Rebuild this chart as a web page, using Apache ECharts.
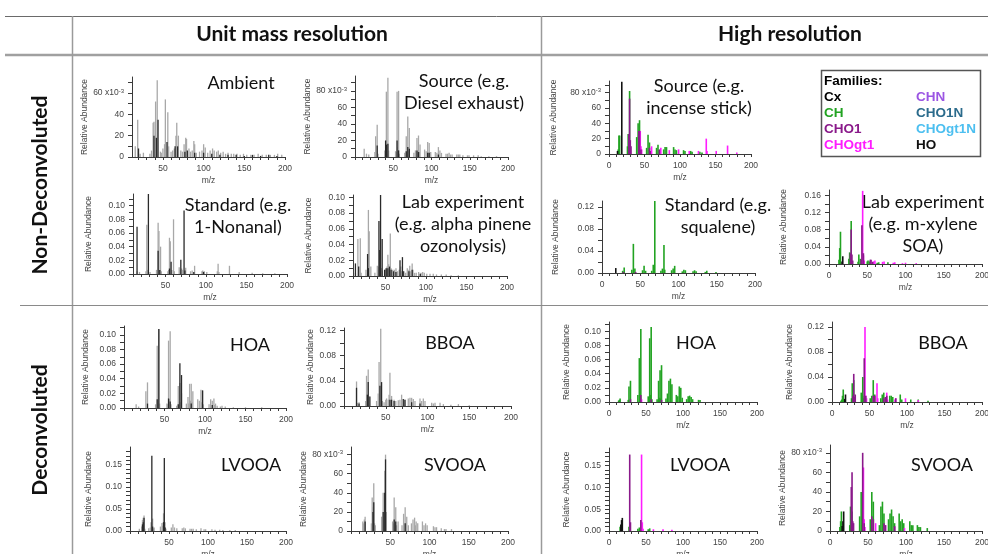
<!DOCTYPE html>
<html><head><meta charset="utf-8">
<script src="https://cdn.jsdelivr.net/npm/echarts@6/dist/echarts.min.js"></script>
<style>html,body{margin:0;padding:0;background:#fff}#c{width:988px;height:554px}</style>
</head><body><div id="c"></div>
<script>
// ---------- tick / label values ----------
const xTicks0  = [0,10,20,30,40,50,60,70,80,90,100,110,120,130,140,150,160,170,180,190,200];
const xTicks10 = [10,20,30,40,50,60,70,80,90,100,110,120,130,140,150,160,170,180,190,200];
const xTicks20 = [20,30,40,50,60,70,80,90,100,110,120,130,140,150,160,170,180,190,200];
const xLabelsUMR = [50,100,150,200];
const xLabelsHR  = [0,50,100,150,200];
const yTicks07 = [0,0.01,0.02,0.03,0.04,0.05,0.06,0.07];
const yLabels06 = [0,0.02,0.04,0.06];
const yTicks09 = [0,0.01,0.02,0.03,0.04,0.05,0.06,0.07,0.08,0.09];
const yLabels08 = [0,0.02,0.04,0.06,0.08];
const yTicks11 = [0,0.01,0.02,0.03,0.04,0.05,0.06,0.07,0.08,0.09,0.10,0.11];
const yTicks10 = [0,0.01,0.02,0.03,0.04,0.05,0.06,0.07,0.08,0.09,0.10];
const yLabels10 = [0,0.02,0.04,0.06,0.08,0.10];
const yTicks12 = [0,0.02,0.04,0.06,0.08,0.10,0.12];
const yLabels12 = [0,0.04,0.08,0.12];
const yTicks16 = [0,0.02,0.04,0.06,0.08,0.10,0.12,0.14,0.16];
const yLabels16 = [0,0.04,0.08,0.12,0.16];
const yTicks15 = [0,0.01,0.02,0.03,0.04,0.05,0.06,0.07,0.08,0.09,0.10,0.11,0.12,0.13,0.14,0.15,0.16,0.17,0.18];
const yLabels15 = [0,0.05,0.10,0.15];

// ---------- spectra: [m/z, relative abundance] ----------
// Unit mass resolution, non-deconvoluted
const ambientLight = [[16,0.010],[19,0.035],[22,0.003],[26,0.004],[34,0.003],[36,0.006],[38,0.032],[39,0.033],[41,0.052],[43,0.072],[47,0.005],[48,0.004],[50,0.008],[52,0.012],[53,0.054],[56,0.042],[57,0.010],[60,0.005],[62,0.006],[64,0.008],[66,0.020],[67,0.032],[69,0.020],[72,0.006],[74,0.005],[76,0.012],[78,0.018],[79,0.017],[82,0.008],[84,0.005],[86,0.006],[88,0.015],[89,0.012],[91,0.004],[95,0.005],[98,0.006],[100,0.012],[102,0.009],[105,0.004],[108,0.006],[111,0.008],[113,0.006],[116,0.005],[118,0.006],[121,0.004],[124,0.005],[127,0.003],[130,0.004],[134,0.003],[137,0.003],[141,0.003],[145,0.002],[149,0.003],[153,0.002],[158,0.002],[162,0.002],[167,0.003],[172,0.002],[177,0.002],[182,0.002],[187,0.002],[191,0.003],[196,0.002]];
const ambientDark = [[20,0.008],[39,0.020],[42,0.018],[44,0.035],[55,0.014],[65,0.010],[68,0.010],[77,0.005],[80,0.006],[89,0.004],[100,0.004],[110,0.003],[120,0.002],[130,0.002],[140,0.002],[150,0.001],[160,0.002],[170,0.001],[180,0.002],[190,0.001]];
const dieselLight = [[12,0.010],[15,0.004],[18,0.003],[26,0.006],[27,0.025],[29,0.039],[30,0.004],[39,0.008],[41,0.079],[42,0.012],[43,0.096],[44,0.008],[53,0.007],[54,0.006],[55,0.079],[56,0.012],[57,0.080],[58,0.004],[65,0.005],[67,0.025],[68,0.007],[69,0.049],[70,0.008],[71,0.035],[77,0.005],[79,0.008],[81,0.023],[82,0.007],[83,0.026],[84,0.006],[85,0.015],[91,0.009],[93,0.007],[95,0.018],[96,0.005],[97,0.017],[99,0.006],[105,0.006],[107,0.005],[109,0.012],[111,0.008],[113,0.005],[119,0.004],[121,0.004],[123,0.005],[125,0.003],[127,0.003],[133,0.003],[135,0.003],[137,0.003],[141,0.002],[147,0.002],[149,0.002],[155,0.002],[161,0.002],[165,0.001],[175,0.001],[185,0.001]];
const dieselDark = [[29,0.014],[40,0.020],[41,0.015],[43,0.016],[55,0.020],[57,0.008],[67,0.007],[69,0.012],[71,0.010],[81,0.008],[83,0.006],[95,0.005],[97,0.005],[109,0.003]];
const nonanalLight = [[15,0.004],[18,0.003],[26,0.004],[27,0.072],[28,0.006],[31,0.003],[39,0.006],[41,0.075],[42,0.063],[44,0.040],[45,0.004],[53,0.004],[54,0.006],[55,0.053],[56,0.048],[58,0.006],[60,0.080],[61,0.004],[67,0.010],[68,0.006],[70,0.008],[71,0.006],[75,0.009],[81,0.004],[83,0.005],[86,0.012],[95,0.004],[96,0.005],[98,0.004],[101,0.003],[114,0.004],[115,0.015],[116,0.003],[129,0.012],[141,0.003],[157,0.002],[170,0.001],[185,0.001]];
const nonanalDark = [[15,0.069],[29,0.117],[41,0.034],[43,0.006],[55,0.008],[57,0.018],[69,0.021],[73,0.093],[74,0.005],[85,0.003],[97,0.003]];
const pineneLight = [[13,0.004],[16,0.047],[19,0.048],[20,0.004],[26,0.008],[29,0.084],[30,0.057],[32,0.012],[37,0.004],[40,0.013],[41,0.008],[42,0.012],[43,0.010],[45,0.010],[46,0.006],[50,0.008],[51,0.010],[52,0.012],[53,0.027],[54,0.015],[56,0.054],[57,0.010],[59,0.008],[61,0.008],[63,0.010],[65,0.006],[67,0.008],[69,0.012],[70,0.006],[73,0.006],[75,0.004],[77,0.010],[79,0.008],[80,0.013],[81,0.006],[83,0.016],[84,0.008],[86,0.004],[88,0.004],[91,0.005],[94,0.004],[96,0.005],[98,0.004],[101,0.003],[105,0.003],[109,0.003],[113,0.002],[119,0.002],[125,0.002],[131,0.001],[140,0.001]];
const pineneDark = [[13,0.016],[17,0.012],[28,0.028],[29,0.010],[42,0.070],[43,0.033],[44,0.104],[46,0.047],[49,0.008],[51,0.010],[53,0.010],[55,0.012],[57,0.008],[60,0.006],[63,0.005],[68,0.020],[71,0.024],[72,0.006],[79,0.006],[83,0.008],[93,0.003]];

// High resolution, non-deconvoluted (by ion family)
const incenseCH = [[13,0.006],[14,0.024],[15,0.024],[26,0.010],[27,0.026],[29,0.082],[39,0.022],[41,0.040],[43,0.044],[53,0.008],[55,0.025],[57,0.015],[67,0.008],[69,0.012],[71,0.005],[77,0.006],[79,0.009],[81,0.009],[91,0.009],[93,0.006],[95,0.005],[105,0.005],[107,0.004],[115,0.004],[117,0.003],[128,0.003],[131,0.002]];
const incenseCHO1 = [[28,0.026],[29,0.072],[30,0.018],[31,0.010],[42,0.030],[43,0.030],[45,0.006],[57,0.008],[58,0.004],[71,0.006]];
const incenseCHOgt1 = [[44,0.030],[45,0.010],[46,0.006],[60,0.010],[73,0.008],[85,0.005],[98,0.006],[113,0.004],[126,0.004],[137,0.020],[138,0.004],[151,0.004],[167,0.011],[180,0.002]];
const incenseHO = [[12,0.004],[18,0.094]];
const squaleneCH = [[27,0.004],[29,0.010],[39,0.006],[41,0.053],[43,0.008],[53,0.005],[55,0.013],[57,0.004],[65,0.004],[67,0.015],[68,0.006],[69,0.132],[77,0.004],[79,0.008],[81,0.051],[82,0.006],[91,0.005],[93,0.008],[95,0.013],[105,0.003],[107,0.006],[109,0.005],[119,0.003],[121,0.005],[123,0.003],[135,0.002],[137,0.004],[149,0.002]];
const squaleneCHO1 = [[28,0.002],[44,0.002]];
const squaleneHO = [[18,0.009]];
const xyleneCH = [[13,0.010],[14,0.037],[15,0.075],[26,0.012],[27,0.027],[28,0.005],[29,0.100],[38,0.005],[39,0.022],[41,0.012],[50,0.006],[51,0.008],[53,0.006],[63,0.003],[65,0.004],[77,0.004]];
const xyleneCHO1 = [[28,0.025],[29,0.080],[30,0.022],[31,0.008],[42,0.010],[43,0.090],[45,0.025],[54,0.010],[55,0.010],[57,0.005]];
const xyleneCHOgt1 = [[44,0.170],[45,0.020],[46,0.008],[58,0.006],[60,0.008],[70,0.005],[72,0.006],[84,0.003],[86,0.004],[96,0.002],[100,0.003],[114,0.002]];
const xyleneHO = [[17,0.006],[18,0.018]];

// Unit mass resolution, deconvoluted factors
const hoaLight = [[15,0.005],[18,0.002],[27,0.023],[29,0.035],[39,0.005],[41,0.085],[42,0.010],[43,0.108],[44,0.006],[53,0.006],[54,0.005],[55,0.092],[56,0.012],[57,0.105],[58,0.005],[65,0.003],[67,0.030],[68,0.008],[69,0.034],[70,0.008],[71,0.020],[77,0.006],[79,0.015],[80,0.006],[81,0.033],[82,0.010],[83,0.033],[84,0.008],[85,0.023],[91,0.012],[93,0.010],[95,0.025],[96,0.008],[97,0.024],[98,0.005],[105,0.005],[107,0.012],[109,0.010],[111,0.013],[112,0.004],[113,0.006],[115,0.003],[119,0.002],[121,0.003],[125,0.002],[135,0.001],[150,0.001],[170,0.001]];
const hoaDark = [[29,0.006],[41,0.012],[43,0.108],[55,0.013],[57,0.009],[67,0.005],[69,0.061],[71,0.045],[83,0.006],[97,0.024],[109,0.004]];
const bboaLight = [[15,0.039],[16,0.005],[18,0.006],[26,0.008],[27,0.048],[29,0.058],[30,0.015],[39,0.008],[41,0.020],[42,0.070],[44,0.123],[46,0.008],[48,0.006],[50,0.010],[51,0.012],[53,0.010],[54,0.018],[55,0.053],[57,0.016],[60,0.010],[62,0.008],[65,0.009],[67,0.010],[69,0.018],[73,0.010],[77,0.012],[79,0.013],[81,0.013],[83,0.011],[85,0.008],[91,0.012],[93,0.008],[95,0.012],[97,0.008],[105,0.005],[107,0.004],[109,0.005],[115,0.005],[119,0.003],[128,0.002],[137,0.003],[150,0.001]];
const bboaDark = [[15,0.029],[18,0.004],[28,0.018],[29,0.038],[31,0.015],[43,0.032],[45,0.038],[55,0.010],[57,0.010],[60,0.008],[71,0.011],[73,0.010],[81,0.006],[91,0.004]];
const lvooaLight = [[12,0.005],[15,0.010],[16,0.025],[17,0.030],[18,0.035],[19,0.005],[24,0.006],[26,0.008],[27,0.020],[29,0.028],[30,0.006],[31,0.008],[39,0.010],[41,0.018],[42,0.012],[43,0.040],[45,0.020],[46,0.005],[53,0.008],[55,0.015],[57,0.008],[60,0.006],[67,0.006],[69,0.008],[71,0.006],[77,0.005],[79,0.005],[81,0.005],[85,0.004],[91,0.006],[95,0.004],[97,0.004],[105,0.004],[109,0.003],[115,0.003],[119,0.002],[128,0.002],[135,0.002]];
const lvooaDark = [[16,0.015],[17,0.020],[18,0.030],[28,0.170],[29,0.010],[43,0.020],[44,0.165],[45,0.008]];
const svooaLight = [[15,0.010],[16,0.008],[17,0.012],[18,0.015],[26,0.008],[27,0.035],[28,0.025],[29,0.050],[30,0.008],[31,0.006],[39,0.015],[41,0.040],[42,0.020],[43,0.063],[44,0.080],[45,0.020],[53,0.010],[54,0.008],[55,0.035],[56,0.012],[57,0.025],[58,0.006],[60,0.010],[65,0.006],[67,0.018],[69,0.025],[70,0.008],[71,0.015],[73,0.006],[77,0.008],[79,0.012],[81,0.014],[82,0.006],[83,0.010],[85,0.008],[91,0.010],[93,0.006],[95,0.008],[97,0.006],[105,0.005],[107,0.004],[109,0.004],[115,0.003],[119,0.002],[121,0.002],[128,0.002]];
const svooaDark = [[18,0.010],[28,0.020],[29,0.030],[41,0.020],[43,0.040],[44,0.075],[55,0.012],[57,0.010],[69,0.008]];

// High resolution, deconvoluted factors
const hrHoaCH = [[13,0.002],[14,0.003],[15,0.005],[26,0.003],[27,0.022],[29,0.030],[39,0.010],[41,0.062],[42,0.005],[43,0.103],[53,0.008],[55,0.090],[56,0.010],[57,0.106],[58,0.004],[65,0.004],[67,0.030],[68,0.006],[69,0.045],[70,0.005],[71,0.052],[77,0.005],[79,0.012],[81,0.030],[83,0.033],[85,0.025],[91,0.010],[93,0.008],[95,0.022],[97,0.020],[99,0.006],[105,0.004],[107,0.008],[109,0.009],[111,0.007],[113,0.004],[121,0.003],[123,0.003]];
const hrHoaCHO1 = [[29,0.004],[43,0.010],[57,0.004],[71,0.003]];
const hrHoaCHOgt1 = [[44,0.004]];
const hrBboaCH = [[12,0.002],[13,0.004],[14,0.010],[15,0.020],[26,0.006],[27,0.030],[29,0.035],[39,0.015],[41,0.040],[42,0.006],[43,0.010],[51,0.006],[53,0.010],[55,0.035],[57,0.012],[65,0.006],[67,0.012],[69,0.015],[77,0.010],[79,0.010],[81,0.008],[91,0.012],[93,0.004],[105,0.004],[115,0.004],[128,0.002]];
const hrBboaCHO1 = [[28,0.010],[29,0.045],[30,0.008],[31,0.012],[43,0.070],[45,0.010],[55,0.010],[57,0.010],[69,0.006],[71,0.008],[73,0.010],[85,0.006]];
const hrBboaCHOgt1 = [[44,0.120],[45,0.010],[46,0.006],[60,0.030],[61,0.006],[73,0.015],[74,0.004],[84,0.004],[85,0.006],[98,0.006],[115,0.003]];
const hrBboaHO = [[17,0.005],[18,0.012]];
const hrLvooaCH = [[15,0.010],[27,0.010],[39,0.005],[41,0.008],[53,0.004],[55,0.006]];
const hrLvooaCHO1 = [[28,0.175],[29,0.020],[43,0.025]];
const hrLvooaCHOgt1 = [[44,0.175],[45,0.020],[46,0.005],[60,0.004],[73,0.004],[85,0.003]];
const hrLvooaHO = [[16,0.015],[17,0.025],[18,0.030]];
const hrSvooaCH = [[13,0.004],[14,0.010],[15,0.020],[26,0.006],[27,0.025],[29,0.020],[39,0.015],[41,0.040],[42,0.006],[43,0.020],[53,0.012],[55,0.040],[57,0.030],[65,0.006],[67,0.025],[69,0.030],[71,0.018],[77,0.012],[79,0.018],[81,0.022],[83,0.015],[85,0.008],[91,0.018],[93,0.010],[95,0.012],[97,0.008],[105,0.010],[107,0.006],[109,0.006],[115,0.006],[117,0.004],[119,0.004],[128,0.003]];
const hrSvooaCHO1 = [[28,0.045],[29,0.060],[30,0.010],[31,0.008],[43,0.080],[45,0.008],[55,0.015],[57,0.012],[71,0.008],[73,0.006],[85,0.005]];
const hrSvooaCHOgt1 = [[44,0.065],[45,0.012],[46,0.004],[60,0.008],[73,0.006],[85,0.004],[98,0.003]];
const hrSvooaHO = [[16,0.005],[17,0.010],[18,0.020]];

// legend families
const families = [['Cx','CHN'],['CH','CHO1N'],['CHO1','CHOgt1N'],['CHOgt1','HO']];

// ---------- styles ----------
const C = {light:'#a8a8a8', dark:'#2a2a2a', CH:'#22a322', CHO1:'#8a1a8a', CHOgt1:'#ff1cff', HO:'#111111', Cx:'#000000',
           CHN:'#9b55e3', CHO1N:'#2b6b8c', CHOgt1N:'#4cbff0'};
const AXF = 'Liberation Sans, Arial, sans-serif';
const TXF = 'Lato, "Open Sans", sans-serif';

const umr = (l,d) => [{data:l,color:C.light},{data:d,color:C.dark}];
const panels = [
 {box:[132,77,285,157], xmin:12, xt:xTicks20, hr:false, ymax:0.075, yt:yTicks07, yl:yLabels06, exp:true, yGap:38, s:umr(ambientLight,ambientDark), note:'Ambient', np:[241,83]},
 {box:[355,76,508,157], xmin:0, xt:xTicks0, hr:false, ymax:0.098, yt:yTicks09, yl:yLabels08, exp:true, yGap:40, s:umr(dieselLight,dieselDark), note:'Source (e.g.\nDiesel exhaust)', np:[464,92]},
 {box:[133,194,287,274], xmin:10, xt:xTicks10, hr:false, ymax:0.117, yt:yTicks11, yl:yLabels10, exp:false, yGap:40, s:umr(nonanalLight,nonanalDark), note:'Standard (e.g.\n1-Nonanal)', np:[238,216]},
 {box:[353,195,507,276], xmin:10, xt:xTicks10, hr:false, ymax:0.103, yt:yTicks10, yl:yLabels10, exp:false, yGap:40, s:umr(pineneLight,pineneDark), note:'Lab experiment\n(e.g. alpha pinene\nozonolysis)', np:[463,224]},
 {box:[609,81,751,154], xmin:0, xt:xTicks0, hr:true, ymax:0.095, yt:yTicks09, yl:yLabels08, exp:true, yGap:51,
   s:[{data:incenseCH,color:C.CH},{data:incenseCHOgt1,color:C.CHOgt1},{data:incenseCHO1,color:C.CHO1},{data:incenseHO,color:C.HO}], note:'Source (e.g.\nincense stick)', np:[699,97]},
 {box:[602,201,755,273], xmin:0, xt:xTicks0, hr:true, ymax:0.131, yt:yTicks12, yl:yLabels12, exp:false, yGap:42,
   s:[{data:squaleneCH,color:C.CH},{data:squaleneCHO1,color:C.CHO1},{data:squaleneHO,color:C.HO}], note:'Standard (e.g.\nsqualene)', np:[718,216]},
 {box:[829,190,982,264], xmin:0, xt:xTicks0, hr:true, ymax:0.172, yt:yTicks16, yl:yLabels16, exp:false, yGap:41,
   s:[{data:xyleneCH,color:C.CH},{data:xyleneCHOgt1,color:C.CHOgt1},{data:xyleneCHO1,color:C.CHO1},{data:xyleneHO,color:C.HO}], note:'Lab experiment\n(e.g. m-xylene\nSOA)', np:[923,224]},
 {box:[124,326,286,408], xmin:0, xt:xTicks0, hr:false, ymax:0.112, yt:yTicks11, yl:yLabels10, exp:false, yGap:34, s:umr(hoaLight,hoaDark), note:'HOA', np:[250,345]},
 {box:[344,328,511,406], xmin:0, xt:xTicks0, hr:false, ymax:0.124, yt:yTicks12, yl:yLabels12, exp:false, yGap:27, s:umr(bboaLight,bboaDark), note:'BBOA', np:[450,343]},
 {box:[609,322,757,402], xmin:0, xt:xTicks0, hr:true, ymax:0.113, yt:yTicks11, yl:yLabels10, exp:false, yGap:38,
   s:[{data:hrHoaCH,color:C.CH},{data:hrHoaCHOgt1,color:C.CHOgt1},{data:hrHoaCHO1,color:C.CHO1}], note:'HOA', np:[696,343]},
 {box:[832,322,982,402], xmin:0, xt:xTicks0, hr:true, ymax:0.128, yt:yTicks12, yl:yLabels12, exp:false, yGap:38,
   s:[{data:hrBboaCH,color:C.CH},{data:hrBboaCHOgt1,color:C.CHOgt1},{data:hrBboaCHO1,color:C.CHO1},{data:hrBboaHO,color:C.HO}], note:'BBOA', np:[943,343]},
 {box:[130,447,286,531], xmin:0, xt:xTicks0, hr:false, ymax:0.19, yt:yTicks15, yl:yLabels15, exp:false, yGap:37, s:umr(lvooaLight,lvooaDark), note:'LVOOA', np:[251,465]},
 {box:[351,447,508,531], xmin:0, xt:xTicks0, hr:false, ymax:0.088, yt:yTicks09, yl:yLabels08, exp:true, yGap:34, s:umr(svooaLight,svooaDark), note:'SVOOA', np:[455,465]},
 {box:[609,448,757,531], xmin:0, xt:xTicks0, hr:true, ymax:0.19, yt:yTicks15, yl:yLabels15, exp:false, yGap:38,
   s:[{data:hrLvooaCH,color:C.CH},{data:hrLvooaCHOgt1,color:C.CHOgt1},{data:hrLvooaCHO1,color:C.CHO1},{data:hrLvooaHO,color:C.HO}], note:'LVOOA', np:[700,465]},
 {box:[830,445,982,531], xmin:0, xt:xTicks0, hr:true, ymax:0.088, yt:yTicks09, yl:yLabels08, exp:true, yGap:36,
   s:[{data:hrSvooaCH,color:C.CH},{data:hrSvooaCHOgt1,color:C.CHOgt1},{data:hrSvooaCHO1,color:C.CHO1},{data:hrSvooaHO,color:C.HO}], note:'SVOOA', np:[942,465]}
];

const grids=[], xAxes=[], yAxes=[], series=[], graphics=[];
const axCol = '#3a3a3a', txtCol = '#444';
panels.forEach((p,i)=>{
  const [l,t,r,b] = p.box;
  grids.push({left:l, top:t, width:r-l, height:b-t, containLabel:false, outerBoundsMode:'none'});
  xAxes.push({gridIndex:i, type:'value', min:p.xmin, max:200,
    axisLine:{show:true, onZero:false, lineStyle:{color:axCol, width:1}},
    axisTick:{show:true, customValues:p.xt, length:3, lineStyle:{color:axCol, width:1}},
    axisLabel:{customValues:p.hr?xLabelsHR:xLabelsUMR, fontSize:8.5, fontFamily:AXF, color:txtCol, margin:7, showMinLabel:true, showMaxLabel:true},
    splitLine:{show:false},
    name:'m/z', nameLocation:'middle', nameGap:19, nameTextStyle:{fontSize:8.5, fontFamily:AXF, color:txtCol}});
  const top = p.yl[p.yl.length-1];
  yAxes.push({gridIndex:i, type:'value', min:0, max:p.ymax,
    axisLine:{show:true, onZero:false, lineStyle:{color:axCol, width:1}},
    axisTick:{show:true, customValues:p.yt, length:4, lineStyle:{color:axCol, width:1}},
    axisLabel:{customValues:p.yl, fontSize:8.5, fontFamily:AXF, color:txtCol, margin:8, showMinLabel:true, showMaxLabel:true,
      formatter: v => p.exp ? (v===top ? '{n|'+Math.round(v*1000)+' x10}{s|-3}' : String(Math.round(v*1000))) : v.toFixed(2),
      rich:{n:{fontSize:8.5, fontFamily:AXF, color:txtCol}, s:{fontSize:6, fontFamily:AXF, color:txtCol, verticalAlign:'top', padding:[0,0,4,0]}}},
    splitLine:{show:false},
    name:'Relative Abundance', nameLocation:'middle', nameRotate:90, nameGap:p.yGap,
    nameTextStyle:{fontSize:8.5, fontFamily:AXF, color:txtCol}});
  p.s.forEach(s=>series.push({type:'bar', xAxisIndex:i, yAxisIndex:i, data:s.data, barWidth:p.hr?1.6:1.3, barGap:'-100%',
    itemStyle:{color:s.color}, silent:true, animation:false}));
  graphics.push({type:'text', x:p.np[0], y:p.np[1], style:{text:p.note, font:'18px '+TXF, fill:'#111', textAlign:'center', textVerticalAlign:'middle', lineHeight:22}});
});

// table lines
const line = (x1,y1,x2,y2,c,w)=>({type:'line', shape:{x1,y1,x2,y2}, style:{stroke:c, lineWidth:w}, silent:true});
graphics.push(line(5,16.5,988,16.5,'#6a6a6a',1));
graphics.push(line(5,55,988,55,'#a0a0a0',2.5));
graphics.push(line(72.5,16,72.5,554,'#9a9a9a',1.5));
graphics.push(line(541.5,16,541.5,554,'#9a9a9a',1.5));
graphics.push(line(20,305.5,988,305.5,'#8a8a8a',1));
// headers
graphics.push({type:'text', x:292, y:34, style:{text:'Unit mass resolution', font:'bold 21px '+TXF, fill:'#111', textAlign:'center', textVerticalAlign:'middle'}});
graphics.push({type:'text', x:790, y:34, style:{text:'High resolution', font:'bold 21px '+TXF, fill:'#111', textAlign:'center', textVerticalAlign:'middle'}});
graphics.push({type:'text', x:40, y:185, rotation:Math.PI/2, style:{text:'Non-Deconvoluted', font:'bold 21px '+TXF, fill:'#111', textAlign:'center', textVerticalAlign:'middle'}});
graphics.push({type:'text', x:40, y:430, rotation:Math.PI/2, style:{text:'Deconvoluted', font:'bold 21px '+TXF, fill:'#111', textAlign:'center', textVerticalAlign:'middle'}});
// families legend
graphics.push({type:'rect', shape:{x:821.5, y:70.5, width:159, height:86}, style:{fill:'#fff', stroke:'#555', lineWidth:1.5}, silent:true});
graphics.push({type:'text', x:824, y:81, style:{text:'Families:', font:'bold 13.5px '+AXF, fill:'#000', textAlign:'left', textVerticalAlign:'middle'}});
families.forEach((row,k)=>{
  graphics.push({type:'text', x:824, y:97+k*16, style:{text:row[0], font:'bold 13.5px '+AXF, fill:C[row[0]], textAlign:'left', textVerticalAlign:'middle'}});
  graphics.push({type:'text', x:916, y:97+k*16, style:{text:row[1], font:'bold 13.5px '+AXF, fill:C[row[1]] || '#000', textAlign:'left', textVerticalAlign:'middle'}});
});

const chart = echarts.init(document.getElementById('c'), null, {renderer:'canvas'});
chart.setOption({animation:false, backgroundColor:'#fff', grid:grids, xAxis:xAxes, yAxis:yAxes, series, graphic:graphics});
</script></body></html>
